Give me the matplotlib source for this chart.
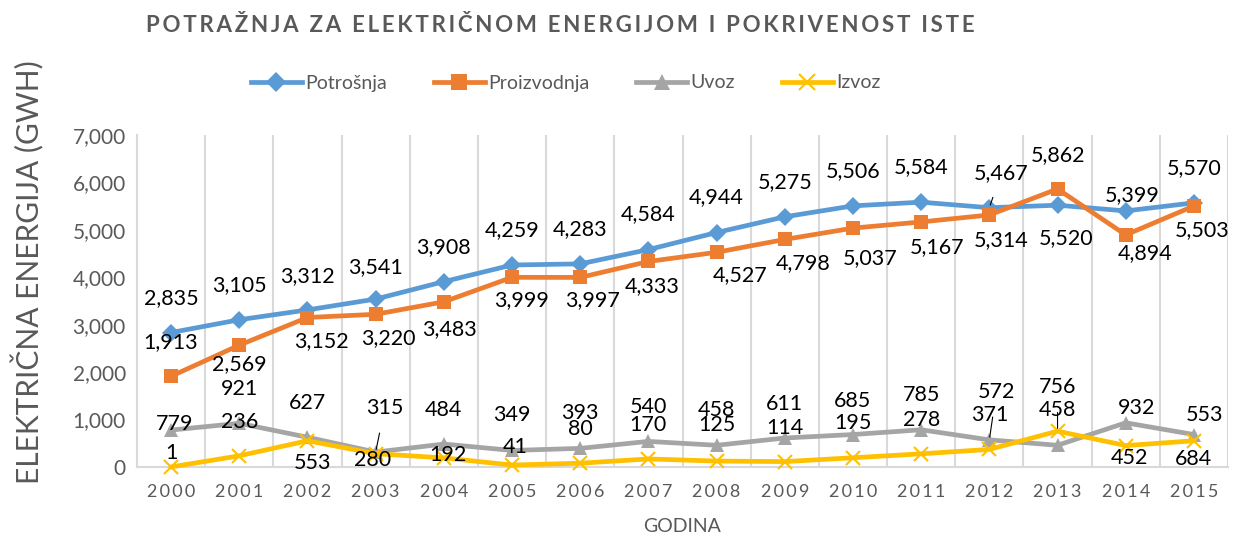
import matplotlib.pyplot as plt
import numpy as np

# podaci (GWh)
godine = ["2000", "2001", "2002", "2003", "2004", "2005", "2006", "2007",
          "2008", "2009", "2010", "2011", "2012", "2013", "2014", "2015"]
potrosnja = [2835, 3105, 3312, 3541, 3908, 4259, 4283, 4584, 4944, 5275, 5506, 5584, 5467, 5520, 5399, 5570]
proizvodnja = [1913, 2569, 3152, 3220, 3483, 3999, 3997, 4333, 4527, 4798, 5037, 5167, 5314, 5862, 4894, 5503]
uvoz = [779, 921, 627, 315, 484, 349, 393, 540, 458, 611, 685, 785, 572, 458, 932, 684]
izvoz = [1, 236, 553, 280, 192, 41, 80, 170, 125, 114, 195, 278, 371, 756, 452, 553]

# pomaci oznaka u pikselima (dx, dy), dy pozitivno = gore
pom_potrosnja = [(0, 34), (0, 35), (0, 34), (0, 32), (0, 35), (0, 35), (0, 35), (0, 35),
                 (0, 35), (0, 35), (0, 35), (0, 35), (12, 35), (9, -33), (6, 16), (0, 35)]
pom_proizvodnja = [(0, 34), (0, -19), (14, -24), (13, -24), (6, -27), (10, -23), (12, -23), (4, -25),
                   (24, -23), (18, -24), (17, -30), (16, -25), (12, -25), (0, 34), (19, -18), (8, -24)]
pom_uvoz = [(4, 6), (0, 34), (0, 34), (9, 44), (0, 34), (0, 35), (0, 35), (0, 34),
            (0, 35), (0, 34), (0, 34), (0, 35), (7, 48), (0, 35), (11, 15), (0, -24)]
pom_izvoz = [(0, 14), (0, 34), (5, -22), (-3, -6), (4, 3), (3, 18), (0, 34), (0, 34),
             (0, 36), (0, 34), (0, 35), (0, 34), (0, 34), (0, 44), (4, -12), (11, 26)]
# oznake s linijom vodiljom
vodilje = {("potrosnja", 12), ("uvoz", 3), ("uvoz", 12), ("izvoz", 13)}

FONT = ["Lato", "DejaVu Sans"]
SIVA = "#595959"


def razmak(s, sep="\u2009"):
    return sep.join(s)


fig = plt.figure(figsize=(12.33, 5.4), dpi=100)
ax = fig.add_axes([137 / 1233, 1 - 467 / 540, (1228 - 137) / 1233, (467 - 135) / 540])

x = np.arange(len(godine))
serije = [
    ("Potrošnja", "potrosnja", potrosnja, pom_potrosnja, "#5B9BD5", "D", 9),
    ("Proizvodnja", "proizvodnja", proizvodnja, pom_proizvodnja, "#ED7D31", "s", 10),
    ("Uvoz", "uvoz", uvoz, pom_uvoz, "#A5A5A5", "^", 10),
    ("Izvoz", "izvoz", izvoz, pom_izvoz, "#FFC000", "x", 10),
]

for ime, kljuc, vr, pom, boja, mk, ms in serije:
    ax.plot(x, vr, color=boja, lw=3.4, marker=mk, markersize=ms,
            markeredgewidth=1.5 if mk == "x" else 0, markeredgecolor=boja,
            label=ime, zorder=3, clip_on=False)
    for i, v in enumerate(vr):
        dx, dy = pom[i]
        arrow = None
        if (kljuc, i) in vodilje:
            arrow = dict(arrowstyle="-", color="black", lw=0.8, shrinkA=9, shrinkB=2)
        ax.annotate(f"{v:,}", (x[i], v), xytext=(dx, dy), textcoords="offset pixels",
                    ha="center", va="center", fontsize=15.5, family=FONT, color="black",
                    arrowprops=arrow, zorder=4)

ax.set_xlim(-0.5, len(godine) - 0.5)
ax.set_ylim(0, 7000)
ax.set_yticks(range(0, 7001, 1000))
ax.set_yticklabels([f"{t:,}" for t in range(0, 7001, 1000)], family=FONT, fontsize=15, color=SIVA)
ax.set_xticks(x)
ax.set_xticklabels([razmak(g) for g in godine], family=FONT, fontsize=13, color=SIVA)
ax.set_xticks(np.arange(-0.5, len(godine), 1), minor=True)
ax.grid(True, which="minor", axis="x", color="#D9D9D9", lw=1.5)
ax.tick_params(which="both", length=0)
ax.tick_params(axis="x", pad=12)
ax.tick_params(axis="y", pad=8)
for s in ["top", "right"]:
    ax.spines[s].set_visible(False)
for s in ["left", "bottom"]:
    ax.spines[s].set_color("#D9D9D9")
    ax.spines[s].set_linewidth(1.5)

ax.set_xlabel("GODINA", family=FONT, fontsize=14, color=SIVA, labelpad=13)

fig.text(28 / 1233, 1 - 272 / 540, "ELEKTRIČNA ENERGIJA (GWH)", rotation=90,
         ha="center", va="center", family=FONT, fontsize=21.5, color=SIVA)

fig.text(560 / 1233, 1 - 26 / 540, razmak("POTRAŽNJA ZA ELEKTRIČNOM ENERGIJOM I POKRIVENOST ISTE"),
         ha="center", va="center", family=FONT, fontsize=16, fontweight="bold", color=SIVA)

fig.legend(loc="center", bbox_to_anchor=(566 / 1233, 1 - 83 / 540), ncol=4, frameon=False,
           prop={"family": FONT, "size": 14}, labelcolor=SIVA, handlelength=2.6,
           columnspacing=2.4, handletextpad=0.2, markerscale=1.15)

fig.savefig("out.png", dpi=100)
